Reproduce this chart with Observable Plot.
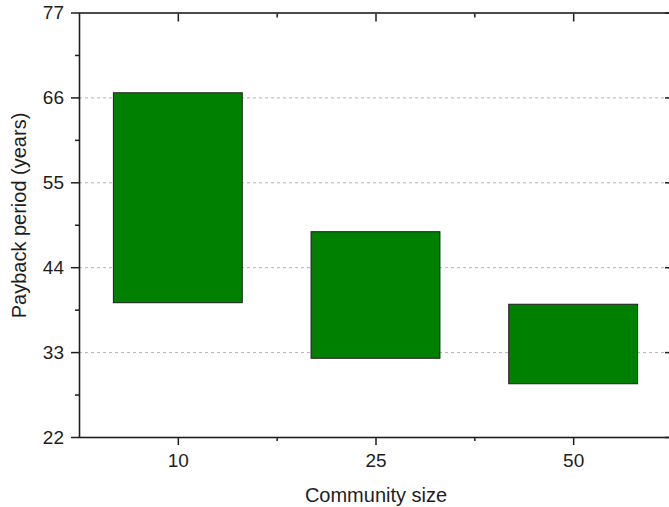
<!DOCTYPE html>
<html>
<head>
<meta charset="utf-8">
<script src="https://cdn.jsdelivr.net/npm/d3@7"></script>
<script src="https://cdn.jsdelivr.net/npm/@observablehq/plot@0.6"></script>
<style>
  html, body { margin: 0; padding: 0; background: #fff; overflow: hidden; }
  #chart { width: 669px; height: 507px; overflow: hidden; }
  #chart svg { max-width: none !important; }
</style>
</head>
<body>
<div id="chart"></div>
<script>
const categories = ["10", "25", "50"];
const lowValues = [39.4, 32.2, 28.9];
const highValues = [66.6, 48.6, 39.2];
const yTicks = [22, 33, 44, 55, 66, 77];
const yMinorTicks = [27.5, 38.5, 49.5, 60.5, 71.5];
const gridValues = [33, 44, 55, 66];
const xTitle = "Community size";
const yTitle = "Payback period (years)";

const rows = categories.map((c, i) => ({cat: c, i: i + 1, low: lowValues[i], high: highValues[i]}));
const xPos = categories.map((c, i) => i + 1);
const xMinor = categories.slice(1).map((c, i) => i + 1.5);
const halfWidth = 0.326;
const ink = "#1e1e1e";
const font = "'Liberation Sans', Arial, sans-serif";

const chart = Plot.plot({
  width: 672,
  height: 507,
  marginLeft: 79,
  marginRight: 0,
  marginTop: 12.5,
  marginBottom: 70,
  style: {fontFamily: font, fontSize: "19px", color: ink, background: "#fff", overflow: "visible", maxWidth: "none"},
  x: {type: "linear", domain: [0.5, categories.length + 0.5], axis: null},
  y: {domain: [yTicks[0], yTicks[yTicks.length - 1]], axis: null},
  marks: [
    Plot.gridY(gridValues, {stroke: "#b4b4b4", strokeOpacity: 1, strokeWidth: 1, strokeDasharray: "3,3"}),
    Plot.rect(rows, {
      x1: d => d.i - halfWidth,
      x2: d => d.i + halfWidth,
      y1: "low",
      y2: "high",
      fill: "#008000",
      stroke: ink,
      strokeWidth: 1
    }),
    // left axis
    Plot.axisY(yTicks, {anchor: "left", tickSize: 8, tickPadding: 7.5, stroke: ink, strokeWidth: 1.5, fill: ink, fontSize: 19, label: null}),
    Plot.axisY(yMinorTicks, {anchor: "left", tickSize: 4, text: null, stroke: ink, strokeWidth: 1.5, label: null}),
    // right axis (inward ticks)
    Plot.axisY(yTicks, {anchor: "right", tickSize: 8, dx: -8, text: null, stroke: ink, strokeWidth: 1.5, label: null}),
    Plot.axisY(yMinorTicks, {anchor: "right", tickSize: 4, dx: -4, text: null, stroke: ink, strokeWidth: 1.5, label: null}),
    // bottom axis
    Plot.axisX(xPos, {anchor: "bottom", tickSize: 8, tickPadding: 8, stroke: ink, strokeWidth: 1.5, fill: ink, fontSize: 19, tickFormat: d => categories[d - 1], label: null}),
    Plot.axisX(xMinor, {anchor: "bottom", tickSize: 4, text: null, stroke: ink, strokeWidth: 1.5, label: null}),
    // top axis (inward ticks)
    Plot.axisX(xPos, {anchor: "top", tickSize: 8, dy: 8, text: null, stroke: ink, strokeWidth: 1.5, label: null}),
    Plot.axisX(xMinor, {anchor: "top", tickSize: 4, dy: 4, text: null, stroke: ink, strokeWidth: 1.5, label: null}),
    Plot.frame({stroke: ink, strokeWidth: 1.6}),
    // titles
    Plot.text([xTitle], {frameAnchor: "bottom", dy: 57.6, textAnchor: "middle", lineAnchor: "middle", fontSize: 20, fill: ink}),
    Plot.text([yTitle], {frameAnchor: "left", rotate: -90, dx: -60.4, dy: -9.75, textAnchor: "middle", lineAnchor: "middle", fontSize: 20, fill: ink})
  ]
});
document.getElementById("chart").appendChild(chart);
</script>
</body>
</html>
